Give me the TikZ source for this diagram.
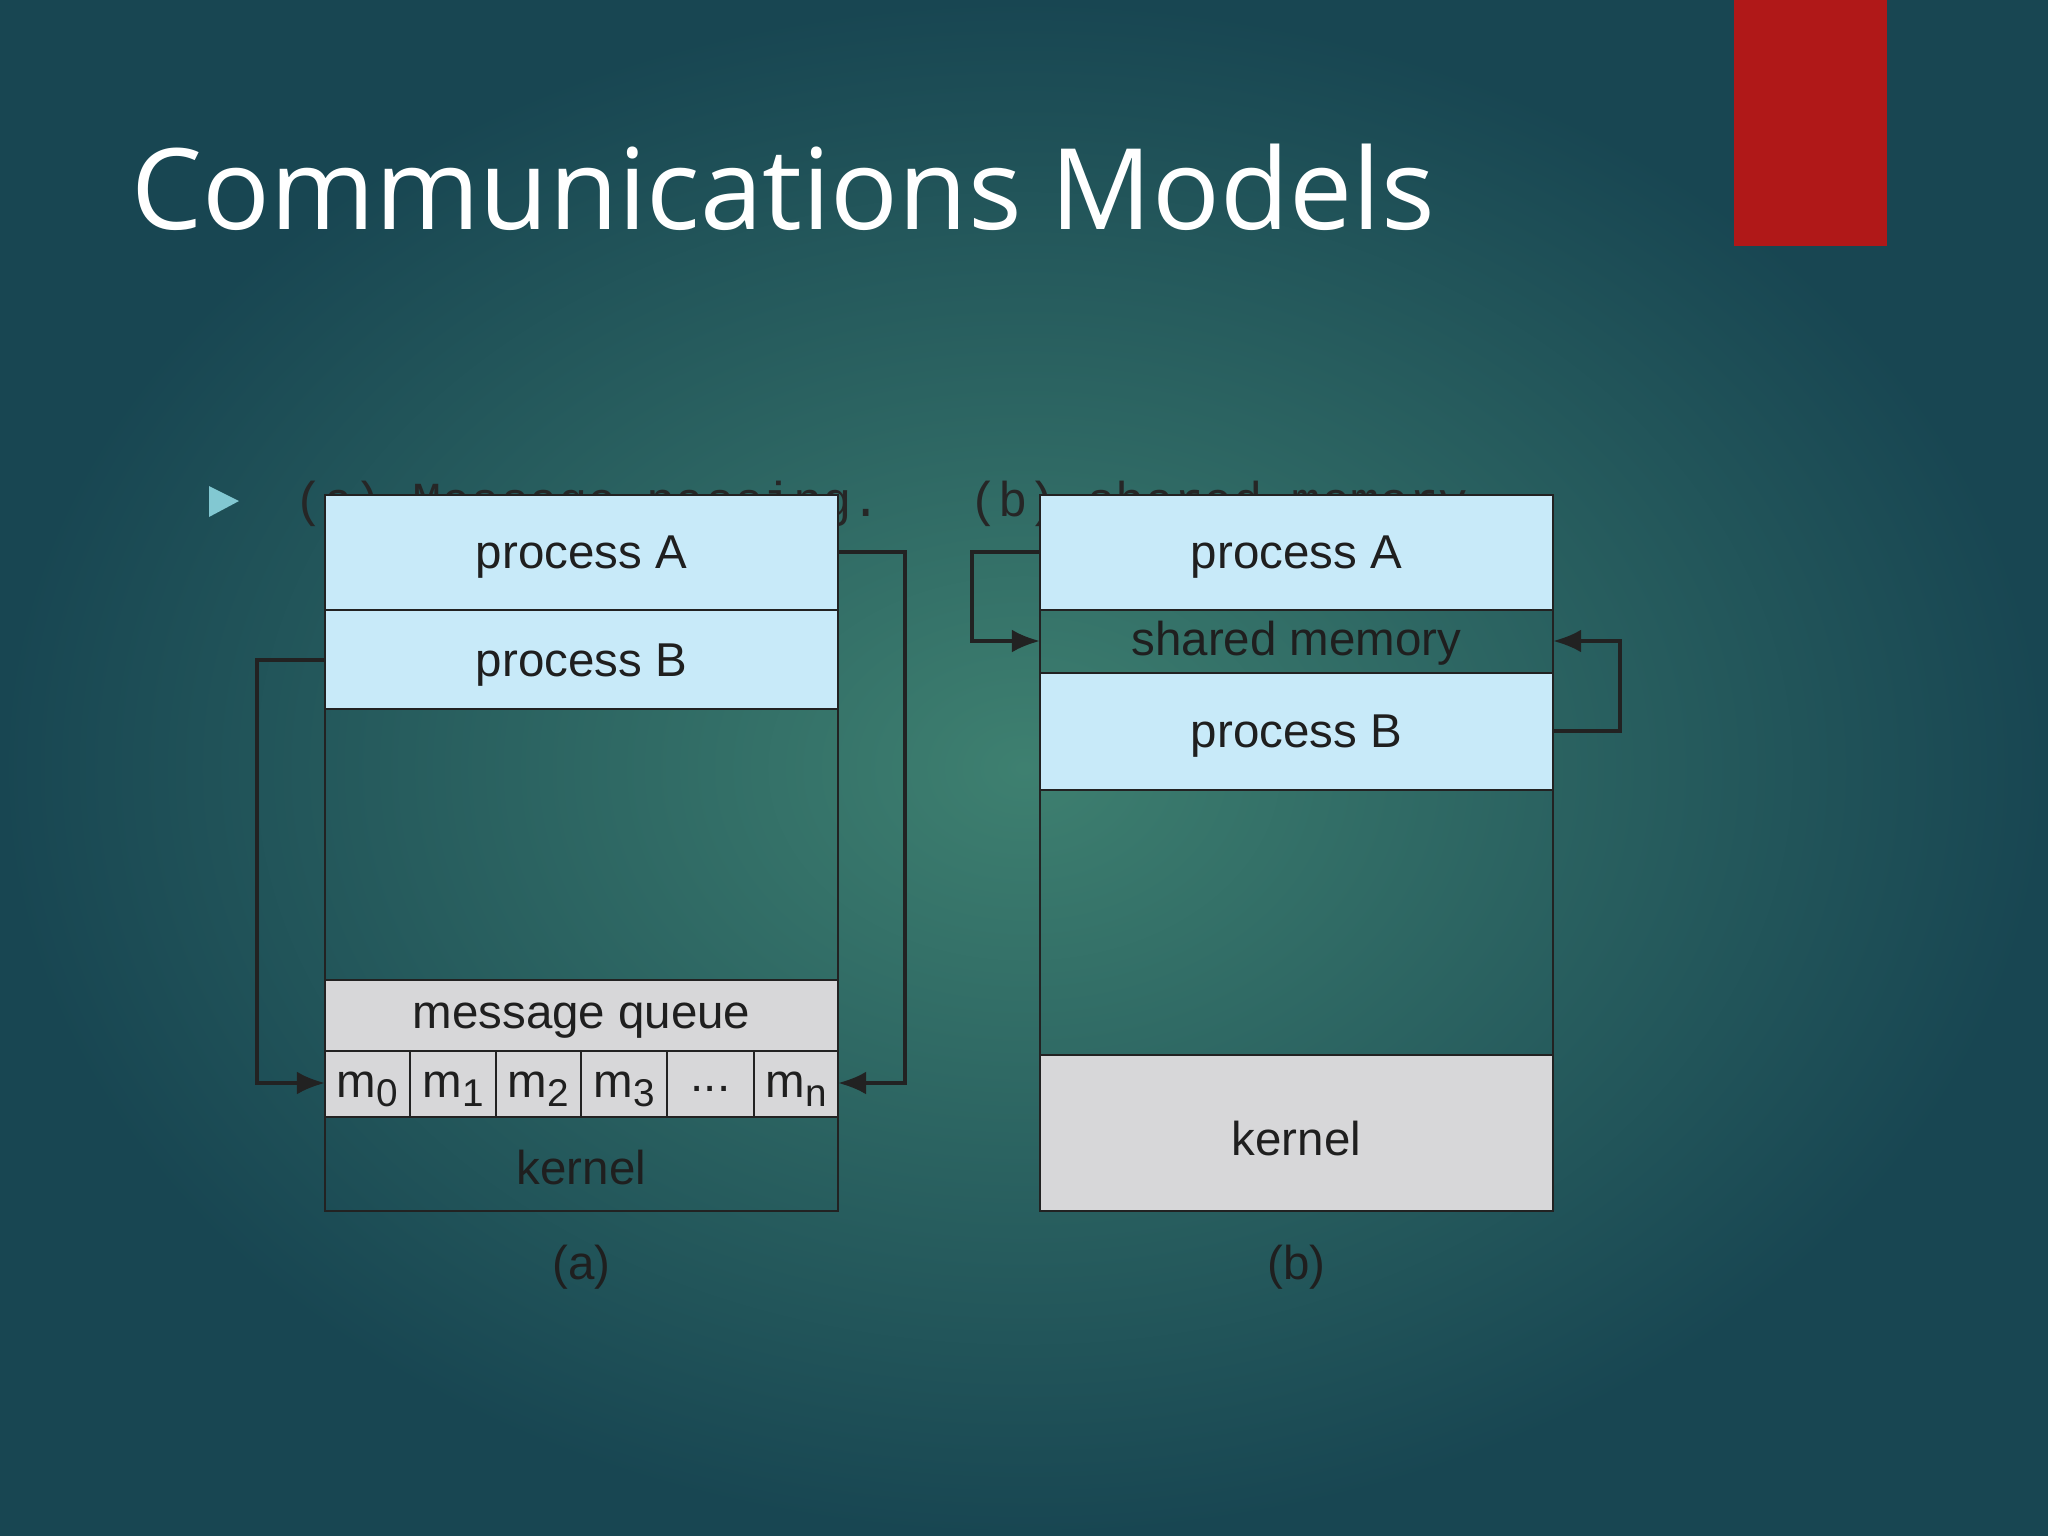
\documentclass[tikz,border=0pt]{standalone}
\usepackage{fontspec}
\setmainfont{Liberation Sans}
\newfontfamily\titlefont{Open Sans}
\newfontfamily\monofont{Liberation Mono}
\usetikzlibrary{arrows.meta}
\definecolor{bgin}{RGB}{62,128,112}
\definecolor{bgout}{RGB}{24,70,82}
\definecolor{lblue}{RGB}{200,234,249}
\definecolor{lgray}{RGB}{215,215,217}
\definecolor{edge}{RGB}{34,34,34}
\definecolor{redbar}{RGB}{176,24,24}
\definecolor{bullet}{RGB}{130,200,210}
\tikzset{
 box/.style={draw=edge,line width=0.7pt},
 lbl/.style={font=\fontsize{13.5}{15}\selectfont,text=black!88,yshift=-1.5pt},
 conn/.style={draw=edge,line width=1.1pt,-{Latex[length=8pt,width=6.5pt]}},
}
\newcommand{\msub}[1]{m\raisebox{-0.35ex}{\fontsize{11}{12}\selectfont #1}}
\begin{document}
\begin{tikzpicture}[x=0.01cm,y=-0.01cm]
\useasboundingbox (0,0) rectangle (2048,1536);
\shade[inner color=bgin,outer color=bgout] (0,0) rectangle (2048,1536);
\fill[redbar] (1734,0) rectangle (1887,246);
\node[anchor=base west,inner sep=0,text=white,font=\titlefont\fontsize{32}{36}\selectfont] (title) at (131,229) {Communications Models};
\fill[bullet] (209,486) -- (239,501) -- (209,517) -- cycle;
\node[anchor=base west,inner sep=0,text=black!85,font=\monofont\fontsize{13.9}{15}\selectfont] (btext) at (294,516) {(a) Message passing.\ \ \ (b) shared memory.};
% (a)
\path[box,fill=lblue] (325,495) rectangle (838,610);
\node[lbl] (aA) at (581.5,552) {process A};
\path[box,fill=lblue] (325,610) rectangle (838,709);
\node[lbl] (aB) at (581.5,660) {process B};
\path[box] (325,709) rectangle (838,980);
\path[box,fill=lgray] (325,980) rectangle (838,1051);
\node[lbl] (mq) at (581.5,1015) {message queue};
\path[box,fill=lgray] (325,1051) rectangle (838,1117);
\foreach \x in {410,496,581,667,754} \draw[box] (\x,1051) -- (\x,1117);
\node[lbl] (m0) at (367.5,1084) {\msub{0}};
\node[lbl] (m1) at (453,1084) {\msub{1}};
\node[lbl] (m2) at (538.5,1084) {\msub{2}};
\node[lbl] (m3) at (624,1084) {\msub{3}};
\node[lbl] (md) at (710.5,1084) {...};
\node[lbl] (mn) at (796,1084) {\msub{n}};
\path[box] (325,1117) rectangle (838,1211);
\node[lbl] (ak) at (581.5,1162) {kernel};
\node[lbl] (la) at (581.5,1262) {(a)};
\coordinate (aL) at (325,660);
\coordinate (aLi) at (325,1083);
\coordinate (aR) at (838,552);
\coordinate (aRi) at (838,1083);
\draw[conn] (aL) -- (257,660) -- (257,1083) -- (aLi);
\draw[conn] (aR) -- (905,552) -- (905,1083) -- (aRi);
% (b)
\path[box,fill=lblue] (1040,495) rectangle (1553,610);
\node[lbl] (bA) at (1296.5,552) {process A};
\path[box] (1040,610) rectangle (1553,673);
\node[lbl] (sm) at (1296.5,638) {shared memory};
\path[box,fill=lblue] (1040,673) rectangle (1553,790);
\node[lbl] (bB) at (1296.5,731) {process B};
\path[box] (1040,790) rectangle (1553,1055);
\path[box,fill=lgray] (1040,1055) rectangle (1553,1211);
\node[lbl] (bk) at (1296.5,1133) {kernel};
\node[lbl] (lb) at (1296.5,1262) {(b)};
\coordinate (bL) at (1040,552);
\coordinate (bLi) at (1040,641);
\coordinate (bR) at (1553,731);
\coordinate (bRi) at (1553,641);
\draw[conn] (bL) -- (972,552) -- (972,641) -- (bLi);
\draw[conn] (bR) -- (1620,731) -- (1620,641) -- (bRi);
\end{tikzpicture}
\end{document}
